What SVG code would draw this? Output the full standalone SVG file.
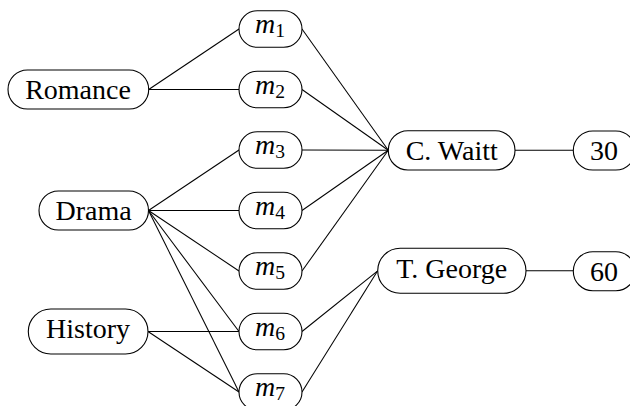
<svg xmlns="http://www.w3.org/2000/svg" width="630" height="406" viewBox="0 0 630 406">
  <!-- connectors, drawn first so the node boxes sit on top -->
  <g id="edges" stroke="#000000" stroke-width="1.05" fill="none">
    <line x1="148.7" y1="89.5" x2="239" y2="29"/>
    <line x1="148.7" y1="89.5" x2="239" y2="89.5"/>
    <line x1="148.5" y1="210.5" x2="239" y2="150"/>
    <line x1="148.5" y1="210.5" x2="239" y2="210.5"/>
    <line x1="148.5" y1="210.5" x2="239" y2="271"/>
    <line x1="148.5" y1="210.5" x2="239" y2="331.5"/>
    <line x1="148.5" y1="210.5" x2="239" y2="392"/>
    <line x1="148" y1="331.5" x2="239" y2="331.5"/>
    <line x1="148" y1="331.5" x2="239" y2="392"/>
    <line x1="302" y1="29" x2="388.3" y2="150.3"/>
    <line x1="302" y1="89.5" x2="388.3" y2="150.3"/>
    <line x1="302" y1="150" x2="388.3" y2="150.3"/>
    <line x1="302" y1="210.5" x2="388.3" y2="150.3"/>
    <line x1="302" y1="271" x2="388.3" y2="150.3"/>
    <line x1="302" y1="331.5" x2="377.7" y2="270.8"/>
    <line x1="302" y1="392" x2="377.7" y2="270.8"/>
    <line x1="515" y1="150.3" x2="573.3" y2="150.3"/>
    <line x1="526" y1="270.8" x2="573.3" y2="270.8"/>
  </g>

  <!-- node boxes -->
  <g id="boxes" fill="#ffffff" stroke="#000000" stroke-width="1.1">
    <rect id="romance-box" x="8" y="70" width="140.7" height="39" rx="19.5" ry="19.5"/>
    <rect id="drama-box" x="39" y="191" width="109.5" height="39" rx="19.5" ry="19.5"/>
    <rect id="history-box" x="28.3" y="309" width="119.7" height="45" rx="22.5" ry="22.5"/>
    <rect id="m1-box" x="239" y="10.7" width="63" height="36.6" rx="18.3" ry="18.3"/>
    <rect id="m2-box" x="239" y="71.2" width="63" height="36.6" rx="18.3" ry="18.3"/>
    <rect id="m3-box" x="239" y="131.7" width="63" height="36.6" rx="18.3" ry="18.3"/>
    <rect id="m4-box" x="239" y="192.2" width="63" height="36.6" rx="18.3" ry="18.3"/>
    <rect id="m5-box" x="239" y="252.7" width="63" height="36.6" rx="18.3" ry="18.3"/>
    <rect id="m6-box" x="239" y="313.2" width="63" height="36.6" rx="18.3" ry="18.3"/>
    <rect id="m7-box" x="239" y="373.7" width="63" height="36.6" rx="18.3" ry="18.3"/>
    <rect id="waitt-box" x="388.3" y="130.7" width="126.7" height="39.3" rx="19.6" ry="19.6"/>
    <rect id="george-box" x="377.7" y="248.3" width="148.3" height="45" rx="22.5" ry="22.5"/>
    <rect id="age30-box" x="573.3" y="131" width="62" height="39" rx="19.5" ry="19.5"/>
    <rect id="age60-box" x="573.3" y="251.7" width="62" height="39" rx="19.5" ry="19.5"/>
  </g>

  <!-- node labels -->
  <g id="labels" fill="#000000" text-anchor="middle">
    <g id="romance"><text x="78" y="99" font-family="Liberation Serif" font-size="28">Romance</text></g>
    <g id="drama"><text x="93.5" y="220" font-family="Liberation Serif" font-size="28">Drama</text></g>
    <g id="history"><text x="88" y="338.2" font-family="Liberation Serif" font-size="28">History</text></g>

    <g id="m1"><text x="270" y="33.3" font-family="Liberation Serif" font-size="28"><tspan font-style="italic">m</tspan><tspan font-size="19.6" dy="4">1</tspan></text></g>
    <g id="m2"><text x="270" y="93.8" font-family="Liberation Serif" font-size="28"><tspan font-style="italic">m</tspan><tspan font-size="19.6" dy="4">2</tspan></text></g>
    <g id="m3"><text x="270" y="154.3" font-family="Liberation Serif" font-size="28"><tspan font-style="italic">m</tspan><tspan font-size="19.6" dy="4">3</tspan></text></g>
    <g id="m4"><text x="270" y="214.8" font-family="Liberation Serif" font-size="28"><tspan font-style="italic">m</tspan><tspan font-size="19.6" dy="4">4</tspan></text></g>
    <g id="m5"><text x="270" y="275.3" font-family="Liberation Serif" font-size="28"><tspan font-style="italic">m</tspan><tspan font-size="19.6" dy="4">5</tspan></text></g>
    <g id="m6"><text x="270" y="335.8" font-family="Liberation Serif" font-size="28"><tspan font-style="italic">m</tspan><tspan font-size="19.6" dy="4">6</tspan></text></g>
    <g id="m7"><text x="270" y="396.3" font-family="Liberation Serif" font-size="28"><tspan font-style="italic">m</tspan><tspan font-size="19.6" dy="4">7</tspan></text></g>

    <g id="waitt"><text x="451.7" y="160" font-family="Liberation Serif" font-size="28">C. Waitt</text></g>
    <g id="george"><text x="451.8" y="277.5" font-family="Liberation Serif" font-size="28">T. George</text></g>

    <g id="age30"><text x="604" y="160" font-family="Liberation Serif" font-size="28">30</text></g>
    <g id="age60"><text x="604" y="280.5" font-family="Liberation Serif" font-size="28">60</text></g>
  </g>
</svg>
